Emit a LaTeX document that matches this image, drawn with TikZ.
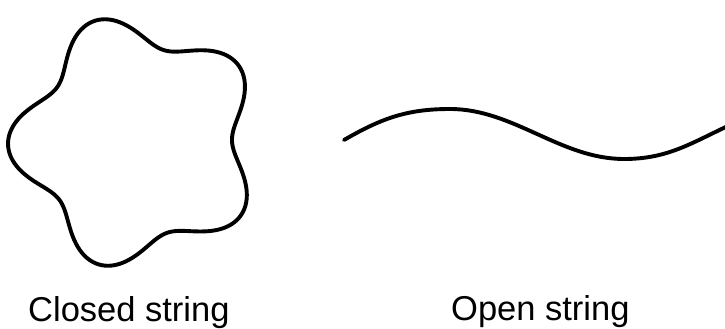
\documentclass[tikz,border=0pt]{standalone}
\usepackage{fontspec}
\setmainfont{Liberation Sans}
\usepackage{tikz}

\begin{document}
\begin{tikzpicture}[x=1pt, y=1pt,
    strand/.style={line width=3.9pt, line cap=round, line join=round},
    caption/.style={inner sep=0pt, anchor=base west, font=\fontsize{34.5}{40}\selectfont}]
    \clip (0,0) rectangle (725,329);

    % Closed string (five-lobed loop)
    \draw[strand] plot[domain=0:360, samples=240]
        ({136+(112+16*cos(5*(\x-37)))*cos(\x)}, {187+(112+16*cos(5*(\x-37)))*sin(\x)}) -- cycle;

    % Open string
    \coordinate (left) at (344,189);
    \coordinate (top) at (450,220);
    \coordinate (low) at (624,170);
    \coordinate (right) at (730,204);
    \draw[strand] (left) to[out=30, in=180] (top)
        to[out=0, in=180, looseness=0.9] (low)
        to[out=0, in=205] (right);

    % Labels
    \node[caption] (closed) at (28,7.5) {Closed string};
    \node[caption] (open) at (451,8) {Open string};
\end{tikzpicture}
\end{document}
